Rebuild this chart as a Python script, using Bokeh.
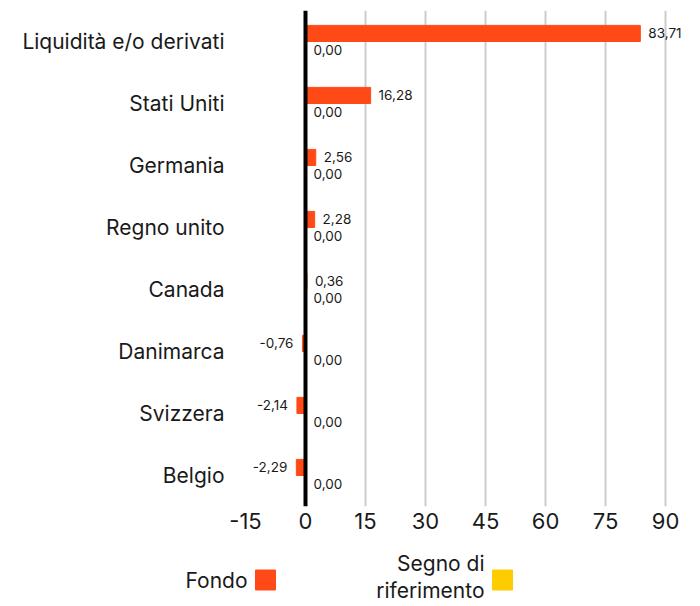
from bokeh.plotting import figure
from bokeh.models import ColumnDataSource, Range1d, FixedTicker, Span
from bokeh.transform import dodge
from bokeh.embed import file_html
from bokeh.resources import INLINE
from bokeh.core.properties import value

categories = ["Liquidità e/o derivati", "Stati Uniti", "Germania", "Regno unito",
              "Canada", "Danimarca", "Svizzera", "Belgio"]
fondo = [83.71, 16.28, 2.56, 2.28, 0.36, -0.76, -2.14, -2.29]
benchmark = [0.00, 0.00, 0.00, 0.00, 0.00, 0.00, 0.00, 0.00]
x_ticks = [-15, 0, 15, 30, 45, 60, 75, 90]
series_names = ["Fondo", "Segno di\nriferimento"]

FONT = "Inter"
ORANGE = "#FF4A17"
YELLOW = "#FFCC00"
TXT = "#1a1a1a"

def fmt(v):
    return f"{v:.2f}".replace(".", ",")

def split(vals):
    pos = dict(cat=[], val=[], lab=[])
    neg = dict(cat=[], val=[], lab=[])
    for c, v in zip(categories, vals):
        d = neg if v < 0 else pos
        d["cat"].append(c)
        d["val"].append(v)
        d["lab"].append(fmt(v))
    return ColumnDataSource(pos), ColumnDataSource(neg)

src_f = ColumnDataSource(dict(cat=categories, val=fondo))
src_b = ColumnDataSource(dict(cat=categories, val=benchmark))
fpos, fneg = split(fondo)
bpos, bneg = split(benchmark)

p = figure(width=700, height=545, y_range=list(reversed(categories)),
           x_range=Range1d(-15, 98.75), output_backend="svg", toolbar_location=None,
           min_border_left=245, min_border_right=0, min_border_top=10,
           min_border_bottom=39)
p.outline_line_color = None

off = 0.13
h = 0.26
p.hbar(y=dodge("cat", off, range=p.y_range), left=0, right="val", height=h,
       source=src_f, color=ORANGE)
p.hbar(y=dodge("cat", -off, range=p.y_range), left=0, right="val", height=h,
       source=src_b, color=YELLOW)

for s, o in ((fpos, off), (bpos, -off)):
    p.text(x="val", y=dodge("cat", o, range=p.y_range), text="lab", source=s,
           x_offset=8, text_align="left", text_baseline="middle",
           text_font=value(FONT), text_font_size="13.5px", text_color=TXT)
for s, o in ((fneg, off), (bneg, -off)):
    p.text(x="val", y=dodge("cat", o, range=p.y_range), text="lab", source=s,
           x_offset=-9, text_align="right", text_baseline="middle",
           text_font=value(FONT), text_font_size="13.5px", text_color=TXT)

p.add_layout(Span(location=0, dimension="height", line_color="black", line_width=4))

p.xaxis.ticker = FixedTicker(ticks=x_ticks)
p.xaxis.major_label_overrides = {t: str(t) for t in x_ticks}
p.xaxis.axis_line_color = None
p.xaxis.major_tick_line_color = None
p.xaxis.minor_tick_line_color = None
p.xaxis.major_label_text_font = FONT
p.xaxis.major_label_text_font_size = "22px"
p.xaxis.major_label_text_color = TXT
p.xaxis.major_label_standoff = 0

p.yaxis.axis_line_color = None
p.yaxis.major_tick_line_color = None
p.yaxis.minor_tick_line_color = None
p.yaxis.major_label_text_font = FONT
p.yaxis.major_label_text_font_size = "21px"
p.yaxis.major_label_text_color = TXT
p.yaxis.major_label_standoff = 15

p.ygrid.grid_line_color = None
p.xgrid.ticker = FixedTicker(ticks=[t for t in x_ticks if t > 0])
p.xgrid.grid_line_color = "#cccccc"
p.xgrid.grid_line_width = 2

# legend strip (separate root so its frame spans the full width)
lg = figure(width=700, height=61, x_range=Range1d(0, 700), y_range=Range1d(0, 61),
            output_backend="svg", toolbar_location=None, min_border=0)
lg.axis.visible = False
lg.grid.visible = False
lg.outline_line_color = None
lg.text(x=[247], y=[26], text=[series_names[0]], text_align="right",
        text_baseline="middle", text_font=value(FONT), text_font_size="21px",
        text_color=TXT)
lg.scatter(x=[265], y=[26.5], size=20, marker="square", color=ORANGE)
lg.text(x=[484, 484], y=[43, 16], text=series_names[1].split("\n"), text_align="right",
        text_baseline="middle", text_font=value(FONT), text_font_size="21px",
        text_color=TXT)
lg.scatter(x=[502], y=[26.5], size=20, marker="square", color=YELLOW)

open("out.html", "w").write(file_html([p, lg], INLINE))
